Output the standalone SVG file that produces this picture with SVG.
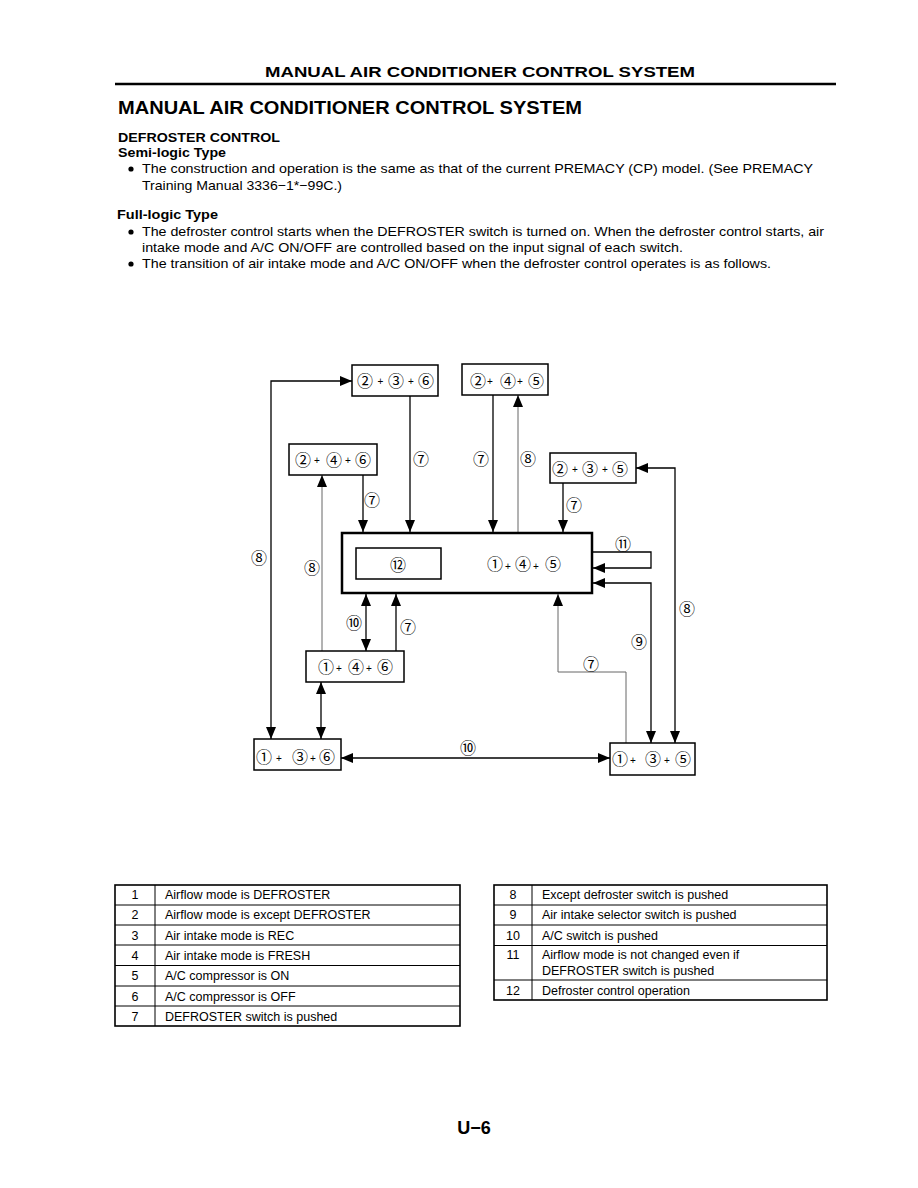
<svg xmlns="http://www.w3.org/2000/svg" width="918" height="1188" viewBox="0 0 918 1188">
<defs>
<style>
.t{font-family:"Liberation Sans",Arial,sans-serif;fill:#000}
.b{font-weight:bold}
.c{font-family:"Noto Sans CJK JP","DejaVu Sans",sans-serif;font-size:16px;text-anchor:middle;dominant-baseline:central;fill:#000}
.p{font-family:"Liberation Sans",Arial,sans-serif;font-size:10px;text-anchor:middle;dominant-baseline:central;fill:#000}
.box{fill:#fff;stroke:#000;stroke-width:1.5}
.ln{fill:none;stroke:#000;stroke-width:1.3}
.thin{fill:none;stroke:#666;stroke-width:1}
.tb{font-family:"Liberation Sans",Arial,sans-serif;font-size:12.5px;fill:#000}
.tn{text-anchor:middle}
.grid{stroke:#000;stroke-width:1;fill:none}
.outer{stroke:#000;stroke-width:1.6;fill:none}
</style>
<marker id="ah" viewBox="0 0 12 10" refX="12" refY="5" markerWidth="12" markerHeight="10" markerUnits="userSpaceOnUse" orient="auto-start-reverse">
<path d="M0,0 L12,5 L0,10 Z" fill="#000"/>
</marker>
</defs>
<rect width="918" height="1188" fill="#fff"/>

<g id="header">
<text class="t b" x="265" y="77" font-size="15.5" textLength="430" lengthAdjust="spacingAndGlyphs">MANUAL AIR CONDITIONER CONTROL SYSTEM</text>
<line x1="115" y1="84" x2="836" y2="84" stroke="#000" stroke-width="2.5"/>
<text class="t b" x="118" y="114" font-size="17.5" textLength="464" lengthAdjust="spacingAndGlyphs">MANUAL AIR CONDITIONER CONTROL SYSTEM</text>
<text class="t b" x="118" y="142" font-size="13" textLength="162" lengthAdjust="spacingAndGlyphs">DEFROSTER CONTROL</text>
<text class="t b" x="118" y="157" font-size="13" textLength="108" lengthAdjust="spacingAndGlyphs">Semi-logic Type</text>
<circle cx="131" cy="169" r="2.6"/>
<text class="t" x="142" y="173" font-size="13" textLength="671" lengthAdjust="spacingAndGlyphs">The construction and operation is the same as that of the current PREMACY (CP) model. (See PREMACY</text>
<text class="t" x="142" y="190" font-size="13" textLength="200" lengthAdjust="spacingAndGlyphs">Training Manual 3336−1*−99C.)</text>
<text class="t b" x="117" y="219" font-size="13" textLength="101" lengthAdjust="spacingAndGlyphs">Full-logic Type</text>
<circle cx="131" cy="232" r="2.6"/>
<text class="t" x="142" y="236" font-size="13" textLength="682" lengthAdjust="spacingAndGlyphs">The defroster control starts when the DEFROSTER switch is turned on. When the defroster control starts, air</text>
<text class="t" x="142" y="252" font-size="13" textLength="541" lengthAdjust="spacingAndGlyphs">intake mode and A/C ON/OFF are controlled based on the input signal of each switch.</text>
<circle cx="131" cy="264" r="2.6"/>
<text class="t" x="142" y="268" font-size="13" textLength="629" lengthAdjust="spacingAndGlyphs">The transition of air intake mode and A/C ON/OFF when the defroster control operates is as follows.</text>
</g>

<g id="connectors">
<path class="ln" d="M271,739 L271,381 L352,381" marker-start="url(#ah)" marker-end="url(#ah)"/>
<path class="ln" d="M410,396 L410,532" marker-end="url(#ah)"/>
<path class="ln" d="M493,395 L493,532" marker-end="url(#ah)"/>
<path class="thin" d="M518,533 L518,395" marker-end="url(#ah)"/>
<path class="ln" d="M363,475 L363,532" marker-end="url(#ah)"/>
<path class="ln" d="M563,483 L563,532" marker-end="url(#ah)"/>
<path class="ln" d="M675,743 L675,468 L636,468" marker-start="url(#ah)" marker-end="url(#ah)"/>
<path class="ln" d="M593,552 L651,552 L651,568 L593,568" marker-end="url(#ah)"/>
<path class="ln" d="M651,743 L651,583 L593,583" marker-start="url(#ah)" marker-end="url(#ah)"/>
<path class="thin" d="M626,743 L626,672 L558,672 L558,594" marker-end="url(#ah)"/>
<path class="ln" d="M366,594 L366,651" marker-start="url(#ah)" marker-end="url(#ah)"/>
<path class="ln" d="M396,651 L396,594" marker-end="url(#ah)"/>
<path class="thin" d="M322,651 L322,475" marker-end="url(#ah)"/>
<path class="ln" d="M321,682 L321,739" marker-start="url(#ah)" marker-end="url(#ah)"/>
<path class="ln" d="M341,758 L610,758" marker-start="url(#ah)" marker-end="url(#ah)"/>
<text class="c" x="259" y="557">⑧</text>
<text class="c" x="312" y="567">⑧</text>
<text class="c" x="421" y="458">⑦</text>
<text class="c" x="481" y="458">⑦</text>
<text class="c" x="528" y="458">⑧</text>
<text class="c" x="372" y="499">⑦</text>
<text class="c" x="574" y="504">⑦</text>
<text class="c" x="623" y="543">⑪</text>
<text class="c" x="687" y="608">⑧</text>
<text class="c" x="639" y="641">⑨</text>
<text class="c" x="591" y="663">⑦</text>
<text class="c" x="354" y="622">⑩</text>
<text class="c" x="408" y="626">⑦</text>
<text class="c" x="468" y="747">⑩</text>
</g>

<g id="n236">
<rect class="box" x="352" y="365" width="86" height="31"/>
<text class="c" x="365" y="380">②</text><text class="p" x="380.5" y="381">+</text>
<text class="c" x="396" y="380">③</text><text class="p" x="411" y="381">+</text>
<text class="c" x="426" y="380">⑥</text>
</g>
<g id="n245">
<rect class="box" x="462" y="364" width="86" height="31"/>
<text class="c" x="478" y="380">②</text><text class="p" x="490" y="381">+</text>
<text class="c" x="508" y="380">④</text><text class="p" x="520" y="381">+</text>
<text class="c" x="536" y="380">⑤</text>
</g>
<g id="n246">
<rect class="box" x="289" y="444" width="88" height="31"/>
<text class="c" x="303" y="459">②</text><text class="p" x="317" y="460">+</text>
<text class="c" x="334" y="459">④</text><text class="p" x="348" y="460">+</text>
<text class="c" x="363" y="459">⑥</text>
</g>
<g id="n235">
<rect class="box" x="550" y="453" width="86" height="30"/>
<text class="c" x="560" y="468">②</text><text class="p" x="575" y="469">+</text>
<text class="c" x="590" y="468">③</text><text class="p" x="605" y="469">+</text>
<text class="c" x="620" y="468">⑤</text>
</g>
<g id="n145">
<rect x="342" y="533" width="250" height="60" fill="#fff" stroke="#000" stroke-width="2.5"/>
<rect class="box" x="356" y="548" width="85" height="31"/>
<text class="c" x="398" y="564">⑫</text>
<text class="c" x="495" y="563">①</text><text class="p" x="508" y="566">+</text>
<text class="c" x="523" y="563">④</text><text class="p" x="536" y="566">+</text>
<text class="c" x="553" y="563">⑤</text>
</g>
<g id="n146">
<rect class="box" x="306" y="651" width="98" height="31"/>
<text class="c" x="326" y="666">①</text><text class="p" x="339" y="668">+</text>
<text class="c" x="356" y="666">④</text><text class="p" x="369" y="668">+</text>
<text class="c" x="385" y="666">⑥</text>
</g>
<g id="n136">
<rect class="box" x="254" y="739" width="87" height="31"/>
<text class="c" x="264" y="756">①</text><text class="p" x="279" y="758">+</text>
<text class="c" x="300" y="756">③</text><text class="p" x="313" y="758">+</text>
<text class="c" x="327" y="756">⑥</text>
</g>
<g id="n135">
<rect class="box" x="610" y="743" width="85" height="32"/>
<text class="c" x="620" y="758">①</text><text class="p" x="633" y="760">+</text>
<text class="c" x="653" y="758">③</text><text class="p" x="667" y="760">+</text>
<text class="c" x="683" y="758">⑤</text>
</g>

<g id="table1">
<rect class="outer" x="115" y="885" width="345" height="141"/>
<line class="grid" x1="155" y1="885" x2="155" y2="1026"/>
<line class="grid" x1="115" y1="905" x2="460" y2="905"/>
<line class="grid" x1="115" y1="925" x2="460" y2="925"/>
<line class="grid" x1="115" y1="945" x2="460" y2="945"/>
<line class="grid" x1="115" y1="965.5" x2="460" y2="965.5"/>
<line class="grid" x1="115" y1="986" x2="460" y2="986"/>
<line class="grid" x1="115" y1="1006" x2="460" y2="1006"/>
<text class="tb tn" x="135" y="899">1</text><text class="tb" x="165" y="899">Airflow mode is DEFROSTER</text>
<text class="tb tn" x="135" y="919">2</text><text class="tb" x="165" y="919">Airflow mode is except DEFROSTER</text>
<text class="tb tn" x="135" y="940">3</text><text class="tb" x="165" y="940">Air intake mode is REC</text>
<text class="tb tn" x="135" y="960">4</text><text class="tb" x="165" y="960">Air intake mode is FRESH</text>
<text class="tb tn" x="135" y="980">5</text><text class="tb" x="165" y="980">A/C compressor is ON</text>
<text class="tb tn" x="135" y="1001">6</text><text class="tb" x="165" y="1001">A/C compressor is OFF</text>
<text class="tb tn" x="135" y="1021">7</text><text class="tb" x="165" y="1021">DEFROSTER switch is pushed</text>
</g>

<g id="table2">
<rect class="outer" x="494" y="885" width="333" height="115"/>
<line class="grid" x1="532" y1="885" x2="532" y2="1000"/>
<line class="grid" x1="494" y1="905" x2="827" y2="905"/>
<line class="grid" x1="494" y1="925" x2="827" y2="925"/>
<line class="grid" x1="494" y1="945.5" x2="827" y2="945.5"/>
<line class="grid" x1="494" y1="980" x2="827" y2="980"/>
<text class="tb tn" x="513" y="899">8</text><text class="tb" x="542" y="899">Except defroster switch is pushed</text>
<text class="tb tn" x="513" y="919">9</text><text class="tb" x="542" y="919">Air intake selector switch is pushed</text>
<text class="tb tn" x="513" y="940">10</text><text class="tb" x="542" y="940">A/C switch is pushed</text>
<text class="tb tn" x="513" y="959">11</text><text class="tb" x="542" y="959">Airflow mode is not changed even if</text>
<text class="tb" x="542" y="975">DEFROSTER switch is pushed</text>
<text class="tb tn" x="513" y="995">12</text><text class="tb" x="542" y="995">Defroster control operation</text>
</g>

<g id="footer">
<text class="t b" x="474" y="1134" font-size="18" text-anchor="middle">U−6</text>
</g>
</svg>
